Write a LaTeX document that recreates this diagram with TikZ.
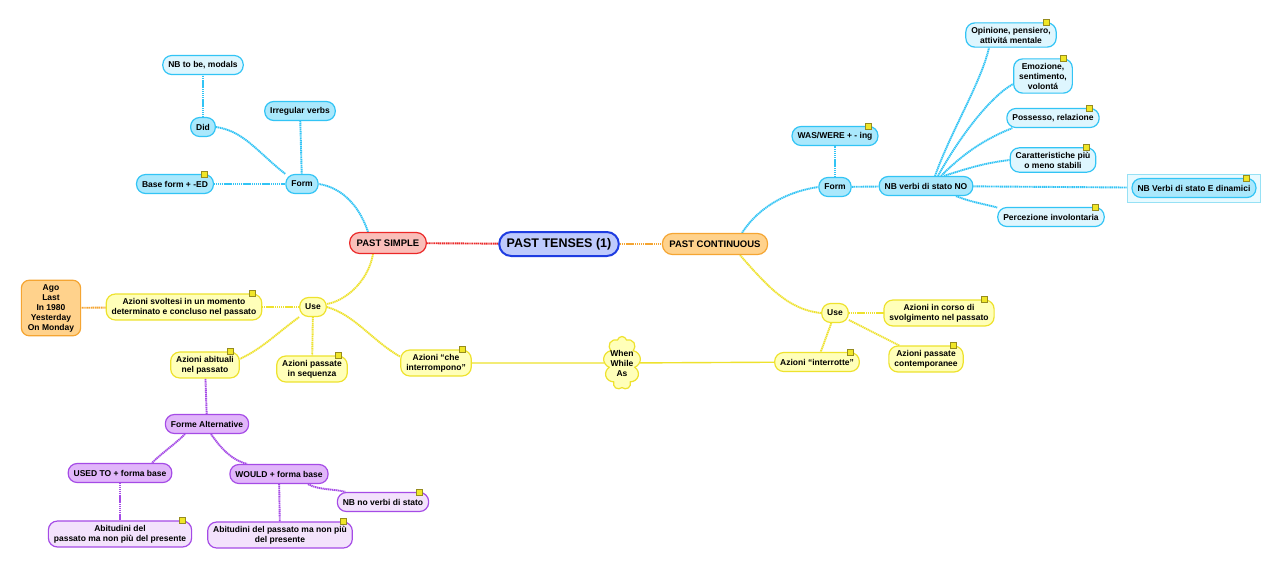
\documentclass[tikz,border=0pt]{standalone}
\usepackage{fontspec}
\setmainfont{Liberation Sans}
\usepackage{xcolor}
\usepackage{tikz}
\usetikzlibrary{shapes.symbols, positioning, fit, backgrounds}

\definecolor{cyanline}{RGB}{50,196,245}
\definecolor{cyanfill}{RGB}{170,232,252}
\definecolor{cyanpale}{RGB}{222,246,254}
\definecolor{yelline}{RGB}{238,226,45}
\definecolor{yelfill}{RGB}{255,255,185}
\definecolor{purline}{RGB}{165,75,230}
\definecolor{purfill}{RGB}{225,182,250}
\definecolor{purpale}{RGB}{243,226,252}
\definecolor{redline}{RGB}{235,40,40}
\definecolor{redfill}{RGB}{250,190,185}
\definecolor{oraline}{RGB}{245,165,50}
\definecolor{orafill}{RGB}{255,210,140}
\definecolor{blueline}{RGB}{30,60,225}
\definecolor{bluefill}{RGB}{190,202,252}
\definecolor{markfill}{RGB}{240,230,40}
\definecolor{markline}{RGB}{150,140,30}
\definecolor{groupfill}{RGB}{232,250,255}
\definecolor{groupline}{RGB}{150,225,245}

\newcommand{\mapfont}{\fontsize{8.5}{10}\selectfont\bfseries}

\tikzstyle{bubble} = [rectangle, rounded corners=9pt, line width=1.2pt, inner xsep=5.5pt, inner ysep=4pt, minimum height=19pt, align=center, font=\mapfont]
\tikzstyle{cyanA} = [bubble, draw=cyanline, fill=cyanfill]
\tikzstyle{cyanB} = [bubble, draw=cyanline, fill=cyanpale]
\tikzstyle{yel} = [bubble, draw=yelline, fill=yelfill]
\tikzstyle{purA} = [bubble, draw=purline, fill=purfill]
\tikzstyle{purB} = [bubble, draw=purline, fill=purpale]
\tikzstyle{branch} = [bubble, rounded corners=10pt, inner xsep=7pt, minimum height=21pt, font=\fontsize{9.5}{11}\selectfont\bfseries]
\tikzstyle{link} = [line width=1.9pt, dash pattern=on 1.3pt off 0.6pt]
\tikzstyle{cyanlink} = [link, draw=cyanline]
\tikzstyle{yellink} = [link, draw=yelline]
\tikzstyle{purlink} = [link, draw=purline]
\tikzstyle{notemark} = [fill=markfill, draw=markline, line width=0.6pt]

\begin{document}
\begin{tikzpicture}[x=1pt, y=-1pt]

\begin{scope}[on background layer]
\fill[white] (0,0) rectangle (1280,571);
\end{scope}
\useasboundingbox (0,0) rectangle (1280,571);

% Main Topics
\node (root) [bubble, rounded corners=12pt, draw=blueline, fill=bluefill, line width=2pt, inner xsep=7.5pt, minimum height=24pt, font=\fontsize{12.5}{14}\selectfont\bfseries] at (559,244) {PAST TENSES (1)};
\node (ps) [branch, draw=redline, fill=redfill] at (388,243) {PAST SIMPLE};
\node (pc) [branch, draw=oraline, fill=orafill] at (715,244) {PAST CONTINUOUS};

% Past simple - form
\node (psform) [cyanA] at (302,184) {Form};
\node (did) [cyanA] at (203,127) {Did};
\node (tobe) [cyanB] at (203,65) {NB to be, modals};
\node (irreg) [cyanA] at (300,111) {Irregular verbs};
\node (baseed) [cyanA] at (175,184) {Base form + -ED};

% Past simple - use
\node (psuse) [yel] at (313,307) {Use};
\node (momento) [yel] at (184,307) {Azioni svoltesi in un momento\\determinato e concluso nel passato};
\node (ago) [bubble, rounded corners=8pt, draw=oraline, fill=orafill, inner xsep=6.5pt] at (51,308) {Ago\\Last\\In 1980\\Yesterday\\On Monday};
\node (abituali) [yel] at (205,365) {Azioni abituali\\nel passato};
\node (sequenza) [yel] at (312,369) {Azioni passate\\in sequenza};
\node (interrompono) [yel] at (436,363) {Azioni “che\\interrompono”};
\node (when) [cloud, cloud puffs=9, aspect=0.6, draw=yelline, fill=yelfill, line width=1.2pt, inner sep=-2pt, minimum width=35pt, minimum height=53pt, align=center, font=\mapfont] at (622,363) {When\\While\\As};

% Forme alternative
\node (forme) [purA] at (207,424) {Forme Alternative};
\node (usedto) [purA] at (120,473) {USED TO + forma base};
\node (would) [purA] at (279,474) {WOULD + forma base};
\node (nostato) [purB] at (383,502) {NB no verbi di stato};
\node (abitA) [purB] at (120,534) {Abitudini del\\passato ma non più del presente};
\node (abitB) [purB] at (280,535) {Abitudini del passato ma non più\\del presente};

% Past continuous - form
\node (pcform) [cyanA] at (835,187) {Form};
\node (waswere) [cyanA] at (835,136) {WAS/WERE + - ing};
\node (nbstato) [cyanA] at (926,186) {NB verbi di stato NO};
\node (opinione) [cyanB] at (1011,35) {Opinione, pensiero,\\attivitá mentale};
\node (emozione) [cyanB] at (1043,76) {Emozione,\\sentimento,\\volontá};
\node (possesso) [cyanB] at (1053,118) {Possesso, relazione};
\node (caratt) [cyanB] at (1053,160) {Caratteristiche più\\o meno stabili};
\node (dinamici) [cyanA] at (1194,188) {NB Verbi di stato E dinamici};
\node (percezione) [cyanB] at (1051,217) {Percezione involontaria};
\begin{scope}[on background layer]
\node (dingroup) [fit=(dinamici), inner sep=4pt, draw=groupline, fill=groupfill, line width=0.8pt] {};
\end{scope}

% Past continuous - use
\node (pcuse) [yel] at (835,313) {Use};
\node (incorso) [yel] at (939,313) {Azioni in corso di\\svolgimento nel passato};
\node (contemp) [yel] at (926,359) {Azioni passate\\contemporanee};
\node (interrotte) [yel] at (817,362) {Azioni “interrotte”};

% Connections
\begin{scope}[on background layer]
\draw [link, draw=redline] (root) -- (ps);
\draw [link, draw=oraline] (root) -- (pc);

\draw [cyanlink] ([xshift=-20pt]ps.north) .. controls +(-10,-30) and +(20,3) .. (psform.east);
\draw [cyanlink] (did.east) .. controls +(28,4) and +(-28,-22) .. (psform.north west);
\draw [cyanlink] (did) -- (tobe);
\draw [cyanlink] (irreg) -- (psform);
\draw [cyanlink] (baseed) -- (psform);

\draw [yellink] ([xshift=-15pt]ps.south) .. controls +(-5,28) and +(18,-3) .. ([yshift=3pt]psuse.east);
\draw [yellink] (psuse) -- (momento);
\draw [link, draw=oraline] (momento) -- (ago);
\draw [yellink] (psuse.south west) .. controls +(-22,16) and +(22,-10) .. (abituali.10);
\draw [yellink] (psuse) -- (sequenza);
\draw [yellink] (psuse.east) .. controls +(28,8) and +(-28,-16) .. (interrompono.170);
\draw [yelline, line width=1.4pt] (interrompono) -- (when);
\draw [yelline, line width=1.4pt] (when) -- (interrotte);

\draw [purlink] (abituali) -- (forme);
\draw [purlink] ([xshift=-22pt]forme.south) .. controls +(-10,10) and +(10,-10) .. ([xshift=32pt]usedto.north);
\draw [purlink] ([xshift=4pt]forme.south) .. controls +(10,14) and +(-16,-4) .. ([xshift=-32pt]would.north);
\draw [purlink] ([xshift=29pt]would.south) .. controls +(10,6) and +(-10,-3) .. (nostato.165);
\draw [purlink] (usedto) -- (abitA);
\draw [purlink] (would) -- (abitB);

\draw [cyanlink] ([xshift=27pt]pc.north) .. controls +(18,-28) and +(-28,4) .. (pcform.west);
\draw [cyanlink] (pcform) -- (waswere);
\draw [cyanlink] (pcform) -- (nbstato);
\draw [cyanlink] ([xshift=9pt]nbstato.north) .. controls +(16,-45) and +(-8,35) .. ([xshift=-22pt]opinione.south);
\draw [cyanlink] ([xshift=12pt]nbstato.north) .. controls +(22,-40) and +(-22,12) .. (emozione.195);
\draw [cyanlink] ([xshift=15pt]nbstato.north) .. controls +(25,-25) and +(-25,10) .. ([xshift=6pt]possesso.south west);
\draw [cyanlink] ([xshift=18pt]nbstato.north) .. controls +(25,-8) and +(-25,3) .. (caratt.west);
\draw [cyanlink] (nbstato) -- (dingroup);
\draw [cyanlink] ([xshift=30pt]nbstato.south) .. controls +(15,6) and +(-15,-4) .. (percezione.170);

\draw [yellink] ([xshift=25pt]pc.south) .. controls +(28,32) and +(-32,-3) .. (pcuse.west);
\draw [yellink] (pcuse) -- (incorso);
\draw [yellink] (pcuse) -- (contemp);
\draw [yellink] (pcuse) -- (interrotte);
\end{scope}

% Note markers
\foreach \n in {baseed, momento, abituali, sequenza, interrompono, interrotte, incorso, contemp, abitA, abitB, nostato, waswere, opinione, emozione, possesso, caratt, dinamici, percezione}
  \draw [notemark] ([shift={(-13pt,-3pt)}]\n.north east) rectangle ([shift={(-7pt,3pt)}]\n.north east);

\end{tikzpicture}
\end{document}
